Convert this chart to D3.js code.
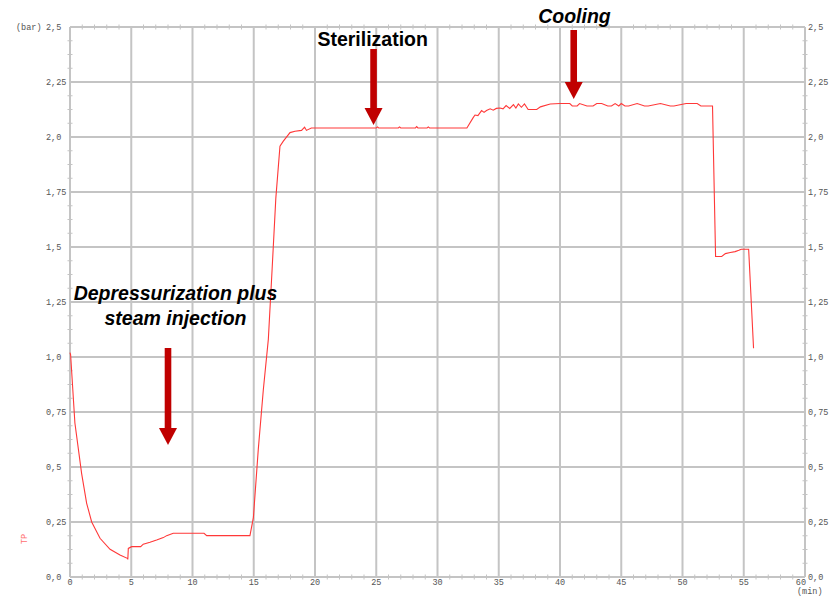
<!DOCTYPE html>
<html>
<head>
<meta charset="utf-8">
<script src="https://cdn.jsdelivr.net/npm/d3@7"></script>
<style>
  body { margin: 0; background: #fff; }
  .lbl { font-family: "Liberation Mono", "DejaVu Sans Mono", monospace; font-size: 8.5px; fill: #555; }
  .note { font-family: "Liberation Sans", Arial, sans-serif; font-weight: bold; fill: #000; }
</style>
</head>
<body>
<svg id="chart" width="832" height="597"></svg>
<script>
// pressure curve
let timeMin = [0, 0.05, 0.4, 0.95, 1.36, 1.77, 2.45, 3.27, 4.08, 4.68, 4.72, 4.76, 5.03, 5.77, 5.98, 6.53,
    7.07, 7.62, 7.89, 8.43, 10.94, 11.16, 14.69, 14.97, 15.37, 15.78, 16.19, 16.5, 16.8, 17.14, 17.4,
    17.96, 18.37, 18.9, 19.15, 19.3, 19.7, 25.0, 25.1, 25.2, 26.8, 26.9, 27.0, 28.2, 28.3, 28.4, 29.15,
    29.25, 29.35, 32.4, 32.9, 33.06, 33.3, 33.6, 33.8, 34.0, 34.3, 34.55, 34.8, 35.1, 35.35, 35.6, 35.9,
    36.2, 36.4, 36.6, 36.85, 37.1, 37.4, 38.1, 38.4, 39.2, 40.0, 40.8, 41.0, 41.4, 41.6, 42.2, 42.7,
    43.0, 43.4, 43.9, 44.2, 44.5, 44.8, 45.0, 45.3, 45.6, 46.3, 46.9, 47.2, 48.2, 49.0, 49.3, 50.3,
    51.2, 51.5, 52.45, 52.7, 53.2, 53.5, 53.9, 54.3, 54.6, 54.8, 55.4, 55.8];
let pressureBar = [1.02, 1.01, 0.70, 0.47, 0.335, 0.25, 0.176, 0.126, 0.10, 0.085, 0.08, 0.13, 0.138, 0.138, 0.149, 0.158,
    0.168, 0.179, 0.188, 0.199, 0.199, 0.188, 0.188, 0.27, 0.58, 0.85, 1.08, 1.40, 1.72, 1.958, 1.98,
    2.02, 2.026, 2.03, 2.045, 2.03, 2.041, 2.041, 2.046, 2.041, 2.041, 2.046, 2.041, 2.041, 2.047, 2.041, 2.041,
    2.046, 2.041, 2.041, 2.087, 2.10, 2.097, 2.12, 2.112, 2.12, 2.128, 2.122, 2.13, 2.132, 2.128, 2.143, 2.13,
    2.147, 2.132, 2.15, 2.135, 2.15, 2.125, 2.125, 2.137, 2.15, 2.152, 2.152, 2.141, 2.141, 2.152, 2.141, 2.141,
    2.152, 2.152, 2.141, 2.141, 2.152, 2.141, 2.152, 2.141, 2.141, 2.152, 2.141, 2.141, 2.152, 2.141, 2.141, 2.152,
    2.152, 2.141, 2.141, 1.457, 1.457, 1.47, 1.475, 1.479, 1.485, 1.49, 1.49, 1.04];

let xTicks = [0, 5, 10, 15, 20, 25, 30, 35, 40, 45, 50, 55, 60];
let yTicks = [0, 0.25, 0.5, 0.75, 1.0, 1.25, 1.5, 1.75, 2.0, 2.25, 2.5];
let yTickLabels = ["0,0", "0,25", "0,5", "0,75", "1,0", "1,25", "1,5", "1,75", "2,0", "2,25", "2,5"];

let notes = [
    { text: ["Sterilization"], at: 24.78, textX: 372.7, italic: false, size: 19.5, textY: [46], arrowTop: 49, arrowTip: 125 },
    { text: ["Cooling"], at: 41.12, textX: 574.5, italic: true, size: 19.5, textY: [23], arrowTop: 30, arrowTip: 99 },
    { text: ["Depressurization plus", "steam injection"], at: 8, textX: 175.5, italic: true, size: 19.5, textY: [300, 325], arrowTop: 348, arrowTip: 445 }
];

let svg = d3.select("#chart"),
    pLeft = 70, pRight = 805, pTop = 27, pBottom = 577;

let x = d3.scaleLinear().domain([0, 60]).range([pLeft, pRight]),
    y = d3.scaleLinear().domain([0, 2.5]).range([pBottom, pTop]);

let grey = "#c4c4c4";

// grid lines
svg.append("g").selectAll("line").data(xTicks).enter().append("line")
    .attr("x1", d => x(d)).attr("x2", d => x(d))
    .attr("y1", pTop).attr("y2", pBottom)
    .attr("stroke", grey).attr("stroke-width", 2);
svg.append("g").selectAll("line").data(yTicks).enter().append("line")
    .attr("x1", pLeft).attr("x2", pRight)
    .attr("y1", d => y(d)).attr("y2", d => y(d))
    .attr("stroke", grey).attr("stroke-width", 2);

// minor ticks
let minorX = d3.range(0, 61).filter(d => d % 5 != 0);
let minorY = d3.range(0, 41).map(d => d * 0.0625).filter((d, i) => i % 4 != 0);
[pBottom, pTop].forEach(function(yy) {
    svg.append("g").selectAll("line").data(minorX).enter().append("line")
        .attr("x1", d => x(d)).attr("x2", d => x(d))
        .attr("y1", yy - 2.5).attr("y2", yy + 2.5)
        .attr("stroke", grey).attr("stroke-width", 1);
});
[pLeft, pRight].forEach(function(xx) {
    svg.append("g").selectAll("line").data(minorY).enter().append("line")
        .attr("x1", xx - 2.5).attr("x2", xx + 2.5)
        .attr("y1", d => y(d)).attr("y2", d => y(d))
        .attr("stroke", grey).attr("stroke-width", 1);
});

// tick labels
svg.append("g").selectAll("text").data(xTicks).enter().append("text")
    .attr("class", "lbl")
    .attr("x", d => d == 60 ? x(d) + 1 : x(d))
    .attr("y", pBottom + 8)
    .attr("text-anchor", d => d == 60 ? "end" : "middle")
    .text(d => d);
svg.append("g").selectAll("text").data(yTicks).enter().append("text")
    .attr("class", "lbl")
    .attr("x", 46).attr("y", d => y(d) + 3)
    .text((d, i) => yTickLabels[i]);
svg.append("g").selectAll("text").data(yTicks).enter().append("text")
    .attr("class", "lbl")
    .attr("x", pRight + 3).attr("y", d => y(d) + 3)
    .text((d, i) => yTickLabels[i]);

svg.append("text").attr("class", "lbl").attr("x", 797).attr("y", 594).text("(min)");
svg.append("text").attr("class", "lbl").attr("x", 16).attr("y", pTop + 3).text("(bar)");
svg.append("text").attr("class", "lbl")
    .attr("transform", "translate(27,539) rotate(-90)")
    .attr("text-anchor", "middle")
    .style("fill", "#ff7070")
    .text("TP");

// pressure line
let line = d3.line().x(d => x(d[0])).y(d => y(d[1]));
svg.append("path")
    .datum(timeMin.map((t, i) => [t, pressureBar[i]]))
    .attr("d", line)
    .attr("fill", "none")
    .attr("stroke", "#ff3838")
    .attr("stroke-width", 1.1);

// annotations with arrows
notes.forEach(function(n) {
    let ax = x(n.at);
    n.text.forEach(function(t, i) {
        svg.append("text").attr("class", "note")
            .attr("x", n.textX)
            .attr("y", n.textY[i])
            .attr("text-anchor", "middle")
            .attr("font-size", n.size + "px")
            .attr("font-style", n.italic ? "italic" : "normal")
            .text(t);
    });
    svg.append("rect")
        .attr("x", ax - 3.3).attr("y", n.arrowTop)
        .attr("width", 6.6).attr("height", n.arrowTip - 16 - n.arrowTop)
        .attr("fill", "#c00000");
    svg.append("path")
        .attr("d", "M" + (ax - 9) + "," + (n.arrowTip - 17) + "L" + (ax + 9) + "," + (n.arrowTip - 17) + "L" + ax + "," + n.arrowTip + "Z")
        .attr("fill", "#c00000");
});
</script>
</body>
</html>
